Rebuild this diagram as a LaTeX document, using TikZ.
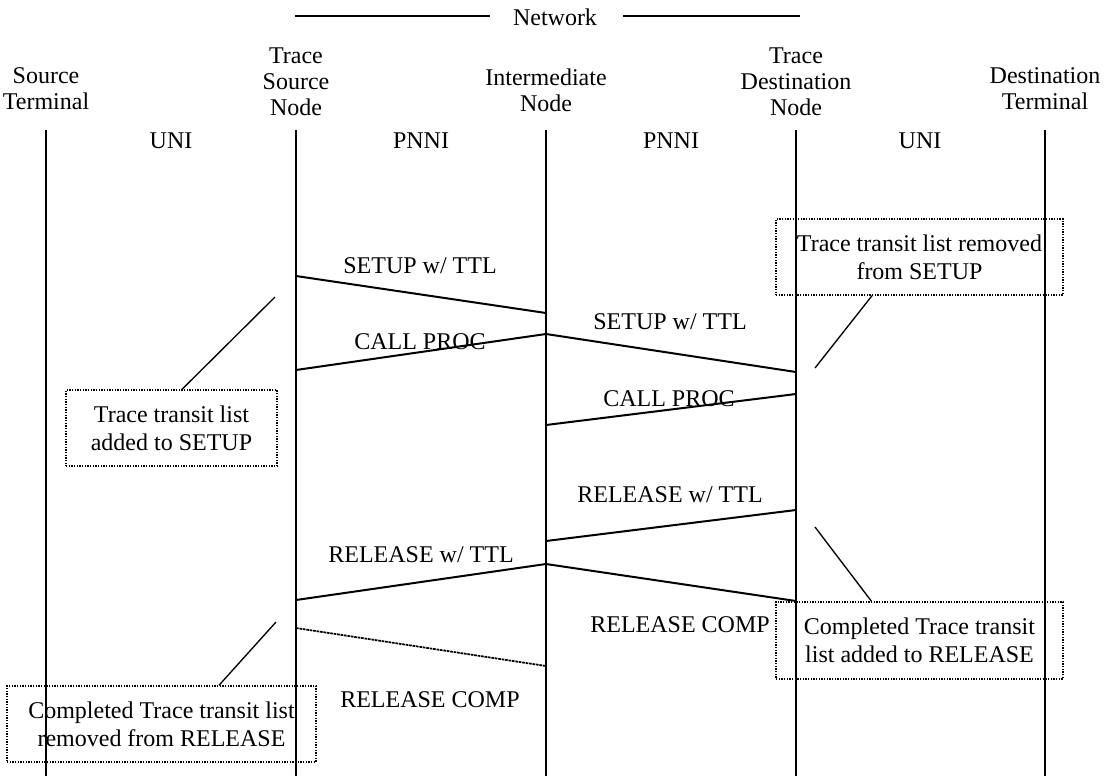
\documentclass[tikz,border=0pt]{standalone}
\usepackage{fontspec}
\setmainfont{Liberation Serif}
\begin{document}
\begin{tikzpicture}%
	[x=0.75pt, y=-0.75pt,
	lifeline/.style={line width=1.5pt},
	msg/.style={line width=1.5pt},
	msgcomp/.style={line width=1.3pt, dash pattern=on 2pt off 0.6pt},
	pointer/.style={line width=1pt},
	netline/.style={line width=1.5pt},
	msgtext/.style={font=\fontsize{18}{19.5}\selectfont, align=center, inner sep=0pt},
	note/.style={draw, densely dotted, line width=1pt, align=center, inner sep=0pt, font=\fontsize{18}{21}\selectfont}]
	%
	\useasboundingbox (0,0) rectangle (1107,776);
	%
	%% Network bracket
	%%
	\node[msgtext] (network) at (555,17) {Network};
	\coordinate (netleft) at (295,16);
	\coordinate (netright) at (800,16);
	\draw[netline] (netleft) -- (490,16);
	\draw[netline] (623,16) -- (netright);
	%%
	%% Headers
	%%
	\node[msgtext] (srcterm) at (46,89) {Source\\Terminal};
	\node[msgtext] (srcnode) at (296,82) {Trace\\Source\\Node};
	\node[msgtext] (midnode) at (546,90) {Intermediate\\Node};
	\node[msgtext] (dstnode) at (796,82) {Trace\\Destination\\Node};
	\node[msgtext] (dstterm) at (1045,89) {Destination\\Terminal};
	%%
	%% Lifelines
	%%
	\coordinate (srcterm top) at (46,130);
	\coordinate (srcnode top) at (296,130);
	\coordinate (midnode top) at (546,130);
	\coordinate (dstnode top) at (796,130);
	\coordinate (dstterm top) at (1045,130);
	\coordinate (srcterm bot) at (46,776);
	\coordinate (srcnode bot) at (296,776);
	\coordinate (midnode bot) at (546,776);
	\coordinate (dstnode bot) at (796,776);
	\coordinate (dstterm bot) at (1045,776);
	\draw[lifeline] (srcterm top) -- (srcterm bot);
	\draw[lifeline] (srcnode top) -- (srcnode bot);
	\draw[lifeline] (midnode top) -- (midnode bot);
	\draw[lifeline] (dstnode top) -- (dstnode bot);
	\draw[lifeline] (dstterm top) -- (dstterm bot);
	%%
	%% Interfaces
	%%
	\node[msgtext] (uni1) at (171,141) {UNI};
	\node[msgtext] (pnni1) at (421,141) {PNNI};
	\node[msgtext] (pnni2) at (671,141) {PNNI};
	\node[msgtext] (uni2) at (920,141) {UNI};
	%%
	%% Message end points
	%%
	\coordinate (setup1 a) at (296,276);
	\coordinate (setup1 b) at (546,313);
	\coordinate (proc1 a) at (546,334);
	\coordinate (proc1 b) at (296,370);
	\coordinate (setup2 a) at (546,334);
	\coordinate (setup2 b) at (796,372);
	\coordinate (proc2 a) at (796,394);
	\coordinate (proc2 b) at (546,425);
	\coordinate (rel1 a) at (796,510);
	\coordinate (rel1 b) at (546,541);
	\coordinate (rel2 a) at (546,564);
	\coordinate (rel2 b) at (296,600);
	\coordinate (comp1 a) at (546,564);
	\coordinate (comp1 b) at (796,601);
	\coordinate (comp2 a) at (296,628);
	\coordinate (comp2 b) at (546,666);
	%%
	%% Drawing the messages
	%%
	\draw[msg] (setup1 a) -- (setup1 b);
	\draw[msg] (proc1 a) -- (proc1 b);
	\draw[msg] (setup2 a) -- (setup2 b);
	\draw[msg] (proc2 a) -- (proc2 b);
	\draw[msg] (rel1 a) -- (rel1 b);
	\draw[msg] (rel2 a) -- (rel2 b);
	\draw[msg] (comp1 a) -- (comp1 b);
	\draw[msgcomp] (comp2 a) -- (comp2 b);
	%%
	\node[msgtext] (setup1 text) at (420,266) {SETUP w/ TTL};
	\node[msgtext] (proc1 text) at (420,342) {CALL PROC};
	\node[msgtext] (setup2 text) at (670,322) {SETUP w/ TTL};
	\node[msgtext] (proc2 text) at (669,399) {CALL PROC};
	\node[msgtext] (rel1 text) at (670,495) {RELEASE w/ TTL};
	\node[msgtext] (rel2 text) at (421,555) {RELEASE w/ TTL};
	\node[msgtext] (comp1 text) at (680,625) {RELEASE COMP};
	\node[msgtext] (comp2 text) at (430,700) {RELEASE COMP};
	%%
	%% Drawing the notes
	%%
	\node[note, minimum width=158.25pt, minimum height=57pt] (addnote) at (171.5,428) {Trace transit list\\added to SETUP};
	\node[note, minimum width=215.25pt, minimum height=57pt] (remnote) at (919.5,257) {Trace transit list removed\\from SETUP};
	\node[note, minimum width=215.25pt, minimum height=57.75pt] (compnote) at (919.5,640.5) {Completed Trace transit\\list added to RELEASE};
	\node[note, minimum width=231.75pt, minimum height=57pt] (remrelnote) at (161.5,724) {Completed Trace transit list\\removed from RELEASE};
	%%
	\coordinate (addtip) at (275,297);
	\coordinate (remtip) at (815,368);
	\coordinate (comptip) at (815,527);
	\coordinate (remreltip) at (276,622);
	\draw[pointer] (addtip) -- ([xshift=7.9pt]addnote.north);
	\draw[pointer] ([xshift=-35.6pt]remnote.south) -- (remtip);
	\draw[pointer] (comptip) -- ([xshift=-36pt]compnote.north);
	\draw[pointer] (remreltip) -- ([xshift=43.1pt]remrelnote.north);
	%%
	%%
\end{tikzpicture}
\end{document}
